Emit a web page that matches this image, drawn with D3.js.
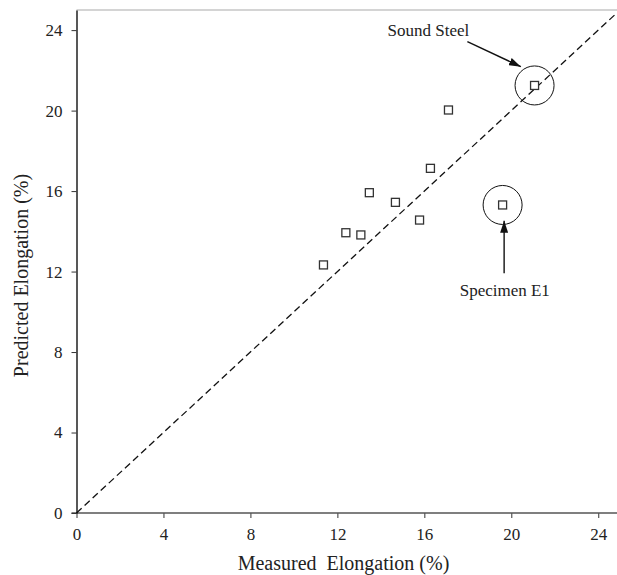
<!DOCTYPE html>
<html>
<head>
    <meta charset="utf-8">
    <title>Predicted vs Measured Elongation</title>
    <script src="https://cdn.jsdelivr.net/npm/d3@7"></script>
    <style>
        body { margin: 0; background: #fff; }
        .axis line { stroke: #333; }
        .pt { fill: #fff; stroke: #333; stroke-width: 1.3; }
    </style>
</head>
<body>
    <div id="chart"></div>

    <script>
        // measured vs predicted elongation (%)
        const measured  = [11.36, 12.39, 13.08, 13.47, 14.67, 15.78, 16.28, 17.11, 21.07, 19.60];
        const predicted = [12.33, 13.93, 13.82, 15.92, 15.44, 14.56, 17.13, 20.03, 21.25, 15.31];
        const tickValues = [0, 4, 8, 12, 16, 20, 24];

        // circled specimens (index into the arrays above) and their labels
        const highlighted = [8, 9];
        const noteLabels = ["Sound Steel", "Specimen E1"];
        const noteTextAt = [[16.19, 23.7], [19.7, 10.81]];
        const arrowFrom = [[17.98, 23.43], [19.67, 11.91]];
        const arrowTo = [[20.44, 22.18], [19.67, 14.53]];

        const W = 617, H = 575;
        const margin = { top: 10, left: 76.5 };
        const plotW = 543.5, plotH = 503;
        const serif = "'Liberation Serif', 'Times New Roman', Times, serif";

        const svg = d3.select("#chart").append("svg")
            .attr("width", W)
            .attr("height", H);

        svg.append("defs").append("marker")
            .attr("id", "head")
            .attr("viewBox", "0 0 12 8")
            .attr("refX", 12).attr("refY", 4)
            .attr("markerWidth", 12).attr("markerHeight", 8)
            .attr("markerUnits", "userSpaceOnUse")
            .attr("orient", "auto")
            .append("path")
            .attr("d", "M0,0 L12,4 L0,8 Z")
            .attr("fill", "#111");

        const g = svg.append("g")
            .attr("transform", `translate(${margin.left},${margin.top})`);

        const x = d3.scaleLinear().domain([0, 25]).range([0, plotW]);
        const y = d3.scaleLinear().domain([0, 25]).range([plotH, 0]);

        // top frame line (grey)
        g.append("line")
            .attr("x1", 0).attr("x2", W - margin.left)
            .attr("y1", 0).attr("y2", 0)
            .attr("stroke", "#aaa").attr("stroke-width", 1.2);

        // x axis
        const xAxis = g.append("g")
            .attr("class", "axis")
            .attr("transform", `translate(0,${plotH})`)
            .call(d3.axisBottom(x).tickValues(tickValues).tickSize(5).tickPadding(9.5).tickSizeOuter(0));
        xAxis.select(".domain").remove();
        g.append("line")
            .attr("x1", -5).attr("x2", W - margin.left)
            .attr("y1", plotH).attr("y2", plotH)
            .attr("stroke", "#555").attr("stroke-width", 1.3);

        // y axis
        const yAxis = g.append("g")
            .attr("class", "axis")
            .call(d3.axisLeft(y).tickValues(tickValues).tickSize(5).tickPadding(9).tickSizeOuter(0));
        yAxis.select(".domain").attr("stroke", "#111").attr("stroke-width", 1.4);

        g.selectAll(".axis").attr("font-family", serif).attr("font-size", 17);
        g.selectAll(".axis text").attr("fill", "#222");

        // 1:1 line
        g.append("line")
            .attr("x1", x(0)).attr("y1", y(0))
            .attr("x2", x(25)).attr("y2", y(25))
            .attr("stroke", "#111")
            .attr("stroke-width", 1.3)
            .attr("stroke-dasharray", "7,4");

        // data points
        const pts = measured.map((m, i) => ({ m, p: predicted[i] }));
        const s = 8;
        g.selectAll(".pt")
            .data(pts)
            .enter().append("rect")
            .attr("class", "pt")
            .attr("x", d => x(d.m) - s / 2)
            .attr("y", d => y(d.p) - s / 2)
            .attr("width", s)
            .attr("height", s);

        // circles round highlighted points
        g.selectAll(".ring")
            .data(highlighted)
            .enter().append("circle")
            .attr("cx", i => x(measured[i]))
            .attr("cy", i => y(predicted[i]))
            .attr("r", 19.5)
            .attr("fill", "none")
            .attr("stroke", "#111")
            .attr("stroke-width", 1);

        // annotation arrows and labels
        noteLabels.forEach((lab, i) => {
            g.append("line")
                .attr("x1", x(arrowFrom[i][0])).attr("y1", y(arrowFrom[i][1]))
                .attr("x2", x(arrowTo[i][0])).attr("y2", y(arrowTo[i][1]))
                .attr("stroke", "#111")
                .attr("stroke-width", 1.4)
                .attr("marker-end", "url(#head)");
            g.append("text")
                .attr("x", x(noteTextAt[i][0]))
                .attr("y", y(noteTextAt[i][1]))
                .attr("text-anchor", "middle")
                .attr("font-family", serif)
                .attr("font-size", 17)
                .attr("fill", "#222")
                .text(lab);
        });

        // axis titles
        svg.append("text")
            .attr("x", 343.5)
            .attr("y", 569.5)
            .attr("text-anchor", "middle")
            .attr("font-family", serif)
            .attr("font-size", 20)
            .attr("fill", "#222")
            .style("white-space", "pre")
            .text("Measured  Elongation (%)");

        svg.append("text")
            .attr("transform", "translate(28,275.5) rotate(-90)")
            .attr("text-anchor", "middle")
            .attr("font-family", serif)
            .attr("font-size", 20)
            .attr("fill", "#222")
            .text("Predicted Elongation (%)");
    </script>
</body>
</html>
